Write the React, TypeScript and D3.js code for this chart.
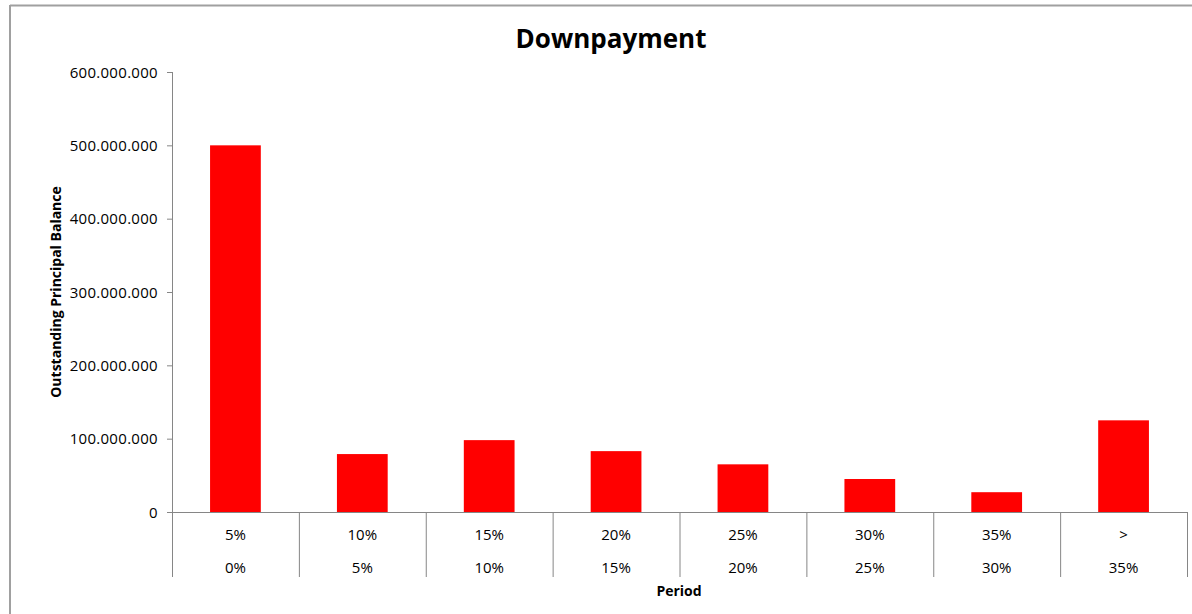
import React from "react";
import * as d3 from "d3";

const upperLabels = ["5%", "10%", "15%", "20%", "25%", "30%", "35%", ">"];
const lowerLabels = ["0%", "5%", "10%", "15%", "20%", "25%", "30%", "35%"];
const values = [500000000, 79000000, 98000000, 83000000, 65000000, 45000000, 27000000, 125000000];
const yTicks = [0, 100000000, 200000000, 300000000, 400000000, 500000000, 600000000];

const W = 1192;
const H = 614;
const left = 172;
const right = 1187;
const top = 72;
const bottom = 512;
const font = "'Open Sans', 'Liberation Sans', sans-serif";

export default function App() {
  const x = d3.scaleBand<number>().domain(d3.range(values.length)).range([left, right]).paddingInner(0.6).paddingOuter(0.3);
  const xb = d3.scaleBand<number>().domain(d3.range(values.length)).range([left, right]);
  const y = d3.scaleLinear().domain([0, 600000000]).range([bottom, top]);
  const fmt = (v: number) => d3.format(",")(v).replace(/,/g, ".");
  const axisColor = "#868686";
  return (
    <svg width={W} height={H} style={{ position: "absolute", left: 0, top: 0 }}>
      <rect x={0} y={0} width={W} height={H} fill="#fff" />
      <line x1={10} y1={5.5} x2={W} y2={5.5} stroke="#a0a0a0" strokeWidth={2} />
      <line x1={10} y1={5} x2={10} y2={H} stroke="#a0a0a0" strokeWidth={2} />
      <text x={611} y={48} textAnchor="middle" fontFamily={font} fontWeight="bold" fontSize={26} fill="#000">Downpayment</text>
      {values.map((v, i) => (
        <rect key={i} x={x(i)} y={y(v)} width={x.bandwidth()} height={bottom - y(v)} fill="#ff0000" />
      ))}
      <line x1={left + 0.5} y1={y(600000000)} x2={left + 0.5} y2={bottom} stroke={axisColor} />
      {yTicks.map((t) => (
        <g key={t}>
          <line x1={left - 5} x2={left} y1={y(t) + 0.5} y2={y(t) + 0.5} stroke={axisColor} />
          <text x={left - 14} y={y(t) + 5.5} textAnchor="end" fontFamily={font} fontSize={15} letterSpacing={0.3} fill="#000">{fmt(t)}</text>
        </g>
      ))}
      <line x1={left} x2={right} y1={bottom + 0.5} y2={bottom + 0.5} stroke={axisColor} />
      {d3.range(values.length + 1).map((i) => {
        const bx = i < values.length ? (xb(i) as number) : right;
        return <line key={i} x1={bx + 0.5} x2={bx + 0.5} y1={bottom} y2={577} stroke={axisColor} />;
      })}
      {upperLabels.map((l, i) => (
        <text key={"u" + i} x={(xb(i) as number) + xb.bandwidth() / 2} y={539.5} textAnchor="middle" fontFamily={font} fontSize={15} fill="#000">{l}</text>
      ))}
      {lowerLabels.map((l, i) => (
        <text key={"l" + i} x={(xb(i) as number) + xb.bandwidth() / 2} y={572.5} textAnchor="middle" fontFamily={font} fontSize={15} fill="#000">{l}</text>
      ))}
      <text x={679} y={596} textAnchor="middle" fontFamily={font} fontWeight="bold" fontSize={14} fill="#000">Period</text>
      <text transform={`translate(61, 292) rotate(-90)`} textAnchor="middle" fontFamily={font} fontWeight="bold" fontSize={14} fill="#000">Outstanding Principal Balance</text>
    </svg>
  );
}
